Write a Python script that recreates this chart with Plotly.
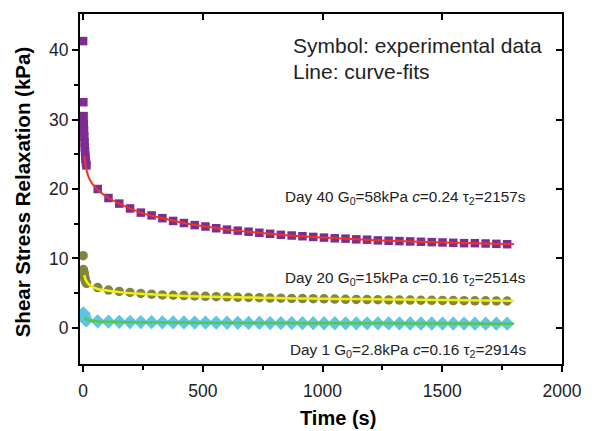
import plotly.graph_objects as go

# ---------------- data ----------------
early_t = [0, 1, 2, 3, 4, 5, 6, 7, 8, 9, 10, 12, 14]
main_t = [61, 106, 151, 196, 241, 286, 331, 376, 421, 466, 511, 556, 601, 646, 691,
          736, 781, 826, 871, 916, 961, 1006, 1051, 1096, 1141, 1186, 1231, 1276,
          1321, 1366, 1411, 1456, 1501, 1546, 1591, 1636, 1681, 1726, 1771]

day40_early = [41.3, 32.5, 30.5, 29.4, 28.4, 27.5, 26.7, 26.0, 25.4, 24.8, 24.3, 23.8, 23.4]
day40_main = [20.0, 18.7, 17.9, 17.2, 16.6, 16.2, 15.8, 15.4, 15.1, 14.8, 14.6, 14.35, 14.15,
              14.0, 13.85, 13.7, 13.55, 13.4, 13.3, 13.2, 13.1, 13.0, 12.9, 12.85, 12.75,
              12.7, 12.6, 12.55, 12.5, 12.45, 12.4, 12.35, 12.3, 12.25, 12.2, 12.2, 12.15,
              12.1, 12.05]

day20_early = [10.4, 8.4, 8.2, 8.0, 7.8, 7.6, 7.4, 7.2, 7.0, 6.9, 6.8, 6.6, 6.4]
day20_main = [5.8, 5.45, 5.25, 5.1, 4.95, 4.85, 4.75, 4.7, 4.65, 4.6, 4.55, 4.5, 4.45, 4.4,
              4.38, 4.35, 4.3, 4.28, 4.25, 4.22, 4.2, 4.18, 4.15, 4.12, 4.1, 4.08, 4.05,
              4.03, 4.0, 4.0, 3.98, 3.97, 3.95, 3.93, 3.92, 3.9, 3.9, 3.88, 3.87]

day1_early = [1.8, 2.1, 1.9, 1.7, 1.6, 1.5, 1.4, 1.35, 1.3, 1.25, 1.2, 1.15, 1.1]
day1_main = [0.95, 0.9, 0.88, 0.85, 0.83, 0.82, 0.8, 0.79, 0.78, 0.77, 0.76, 0.75, 0.74,
             0.73, 0.72, 0.71, 0.7, 0.7, 0.69, 0.68, 0.68, 0.67, 0.67, 0.66, 0.66, 0.65,
             0.65, 0.64, 0.64, 0.63, 0.63, 0.63, 0.62, 0.62, 0.62, 0.61, 0.61, 0.61, 0.6]

fit_t = [5, 10, 20, 35, 61, 106, 151, 241, 331, 421, 511, 601, 736, 871, 1006, 1141,
         1276, 1411, 1546, 1681, 1800]
fit40 = [24.8, 23.5, 22.0, 20.9, 19.9, 18.7, 17.9, 16.6, 15.8, 15.1, 14.6, 14.15, 13.7,
         13.3, 13.0, 12.75, 12.55, 12.4, 12.25, 12.15, 12.05]
fit20 = [7.6, 7.0, 6.4, 6.0, 5.6, 5.35, 5.15, 4.9, 4.75, 4.6, 4.5, 4.45, 4.35, 4.25, 4.2,
         4.15, 4.1, 4.05, 4.0, 3.95, 3.9]
fit1 = [1.5, 1.3, 1.15, 1.0, 0.93, 0.88, 0.85, 0.8, 0.78, 0.76, 0.75, 0.73, 0.71, 0.69,
        0.67, 0.66, 0.65, 0.63, 0.62, 0.61, 0.6]

x_ticks = [0, 500, 1000, 1500, 2000]
y_ticks = [0, 10, 20, 30, 40]

labels = [
    ("Day 40 G<sub>0</sub>=58kPa <i>c</i>=0.24 τ<sub>2</sub>=2157s", 18.8),
    ("Day 20 G<sub>0</sub>=15kPa <i>c</i>=0.16 τ<sub>2</sub>=2514s", 7.1),
    ("Day 1 G<sub>0</sub>=2.8kPa <i>c</i>=0.16 τ<sub>2</sub>=2914s", -3.3),
]

FONT = "Liberation Sans, Arial, sans-serif"
TXT = "#222222"

fig = go.Figure()

# markers
fig.add_trace(go.Scatter(x=early_t + main_t, y=day1_early + day1_main, mode="markers",
                         marker=dict(symbol="diamond", size=11, color="#5CC6E6"),
                         showlegend=False))
fig.add_trace(go.Scatter(x=early_t + main_t, y=day20_early + day20_main, mode="markers",
                         marker=dict(symbol="circle", size=9.5, color="#82863A"),
                         showlegend=False))
fig.add_trace(go.Scatter(x=early_t + main_t, y=day40_early + day40_main, mode="markers",
                         marker=dict(symbol="square", size=8.5, color="#7D2C91"),
                         showlegend=False))
# fit lines
fig.add_trace(go.Scatter(x=fit_t, y=fit1, mode="lines", line=dict(color="#5DC544", width=2.5, shape="spline"),
                         showlegend=False))
fig.add_trace(go.Scatter(x=fit_t, y=fit20, mode="lines", line=dict(color="#F2EE1A", width=2.5, shape="spline"),
                         showlegend=False))
fig.add_trace(go.Scatter(x=fit_t, y=fit40, mode="lines", line=dict(color="#EE3524", width=2, shape="spline"),
                         showlegend=False))
# invisible trace for mirrored (inside) ticks axes
fig.add_trace(go.Scatter(x=[0], y=[0], xaxis="x2", yaxis="y2", mode="markers",
                         marker=dict(opacity=0), showlegend=False, hoverinfo="skip"))

xr = [-13, 2000]
yr = [-5.2, 45.2]

fig.update_layout(
    width=603, height=431,
    margin=dict(l=80, r=41, t=14, b=67),
    paper_bgcolor="white", plot_bgcolor="white",
    font=dict(family=FONT, size=16, color=TXT),
    xaxis=dict(range=xr, showgrid=False, zeroline=False, showline=True, linecolor="black",
               linewidth=2, ticks="outside", ticklen=6, tickwidth=2, tickcolor="black",
               tickvals=x_ticks, tickfont=dict(size=17.5, color=TXT), ticklabelstandoff=4,
               minor=dict(tickvals=[250, 750, 1250, 1750], ticks="outside", ticklen=4,
                          tickwidth=2, tickcolor="black"),
               automargin=False),
    yaxis=dict(range=yr, showgrid=False, zeroline=False, showline=True, linecolor="black",
               linewidth=2, ticks="outside", ticklen=6, tickwidth=2, tickcolor="black",
               tickvals=y_ticks, tickfont=dict(size=17.5, color=TXT),
               minor=dict(tickvals=[5, 15, 25, 35], ticks="outside", ticklen=4,
                          tickwidth=2, tickcolor="black"),
               automargin=False),
    xaxis2=dict(range=xr, overlaying="x", side="top", showgrid=False, zeroline=False,
                showline=True, linecolor="black", linewidth=2, ticks="inside", ticklen=6,
                tickwidth=2, tickcolor="black", tickvals=x_ticks,
                showticklabels=False),
    yaxis2=dict(range=yr, overlaying="y", side="right", showgrid=False, zeroline=False,
                showline=True, linecolor="black", linewidth=2, ticks="inside", ticklen=6,
                tickwidth=2, tickcolor="black", tickvals=y_ticks,
                showticklabels=False),
)

# axis titles
fig.add_annotation(x=0.535, y=1 - (418 - 14) / 350, xref="paper", yref="paper",
                   text="<b>Time (s)</b>", showarrow=False, xanchor="center", yanchor="middle",
                   font=dict(size=20, color="black"))
fig.add_annotation(x=-0.120, y=0.491, xref="paper", yref="paper",
                   text="<b>Shear Stress Relaxation (kPa)</b>", textangle=-90,
                   showarrow=False, xanchor="center", yanchor="middle",
                   font=dict(size=20.5, color="black"))

for text, yv in labels:
    fig.add_annotation(x=1858, y=yv, xref="x", yref="y", text=text, showarrow=False,
                       xanchor="right", yanchor="middle", font=dict(size=15.3, color=TXT))

fig.add_annotation(x=0.438, y=0.911, xref="paper", yref="paper", text="Symbol: experimental data",
                   showarrow=False, xanchor="left", yanchor="middle", font=dict(size=21, color=TXT))
fig.add_annotation(x=0.438, y=0.837, xref="paper", yref="paper", text="Line: curve-fits",
                   showarrow=False, xanchor="left", yanchor="middle", font=dict(size=21, color=TXT))

fig.write_html("out.html", config={"displayModeBar": False},
               post_script="document.body.style.margin='0';")
